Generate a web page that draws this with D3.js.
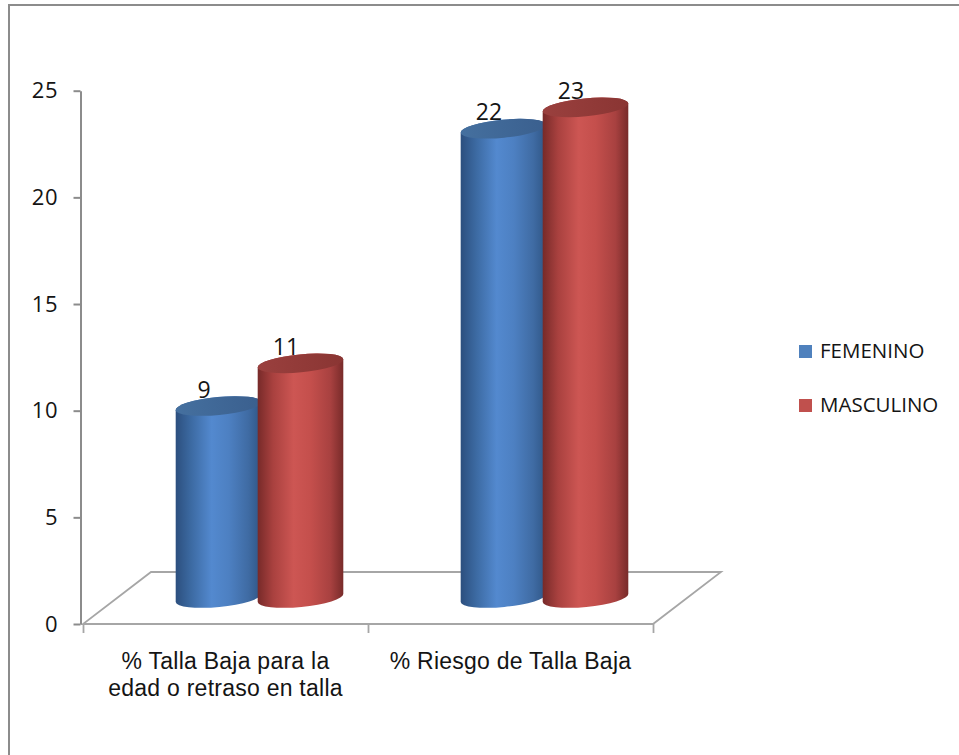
<!DOCTYPE html>
<html>
<head>
<meta charset="utf-8">
<script src="https://cdn.jsdelivr.net/npm/d3@7"></script>
<style>
  html, body { margin: 0; padding: 0; background: #fff; }
  svg { display: block; }
  text { font-family: "Open Sans", "Liberation Sans", sans-serif; fill: #141414; }
</style>
</head>
<body>
<svg id="chart" width="959" height="755"></svg>
<script>
// ---- data ----
const categories = ["% Talla Baja para la edad o retraso en talla", "% Riesgo de Talla Baja"];
const categoryLines = [["% Talla Baja para la", "edad o retraso en talla"], ["% Riesgo de Talla Baja"]];
const seriesNames = ["FEMENINO", "MASCULINO"];
const femenino = [9, 22];
const masculino = [11, 23];
const yTicks = [0, 5, 10, 15, 20, 25];
const seriesValues = [femenino, masculino];

// ---- layout ----
const svg = d3.select("#chart");
const frontLeft = 83, frontRight = 653, yZero = 624, yTop = 90.7;
const depthDx = 68, depthDy = -52;
const rx = 43, ry = 9, tilt = -5.5;

const y = d3.scaleLinear().domain([0, 25]).range([yZero, yTop]);
const x = d3.scaleBand().domain(categories).range([frontLeft, frontRight]);
const xs = d3.scalePoint().domain(seriesNames).range([-41, 41]);
const xEdge = d3.scaleLinear().domain([0, categories.length]).range([frontLeft, frontRight]);

const palettes = {
  FEMENINO: { stops: ["#2c4f7e", "#3c6aa2", "#5389cf", "#4d80c2", "#3f6ba3", "#2f5585"], top: ["#3a5f8e", "#45709f"], legend: "#4f81bd" },
  MASCULINO: { stops: ["#772a29", "#a9413f", "#cd5653", "#c44f4c", "#a84140", "#782b2a"], top: ["#8a3533", "#9a403e"], legend: "#c0504d" }
};

const defs = svg.append("defs");
seriesNames.forEach((s, i) => {
  const g = defs.append("linearGradient").attr("id", "body" + i).attr("x1", 0).attr("x2", 1).attr("y1", 0).attr("y2", 0);
  const offs = [0, 0.18, 0.42, 0.62, 0.85, 1];
  palettes[s].stops.forEach((c, k) => g.append("stop").attr("offset", offs[k]).attr("stop-color", c));
  const t = defs.append("linearGradient").attr("id", "top" + i).attr("x1", 0).attr("x2", 1).attr("y1", 0).attr("y2", 0);
  t.append("stop").attr("offset", 0).attr("stop-color", palettes[s].top[1]);
  t.append("stop").attr("offset", 1).attr("stop-color", palettes[s].top[0]);
});

// outer frame
svg.append("rect").attr("x", 9).attr("y", 5).attr("width", 980).attr("height", 800)
  .attr("fill", "none").attr("stroke", "#8c8c8c").attr("stroke-width", 2);

// floor
const floorPts = [
  [frontLeft, yZero], [frontRight, yZero],
  [frontRight + depthDx, yZero + depthDy], [frontLeft + depthDx, yZero + depthDy]
];
svg.append("path").attr("d", d3.line()(floorPts) + "Z")
  .attr("fill", "none").attr("stroke", "#a6a6a6").attr("stroke-width", 1.8);

// y axis
const yAxis = d3.axisLeft(y).tickValues(yTicks).tickSize(7).tickSizeOuter(0).tickPadding(15);
const gy = svg.append("g").attr("transform", "translate(80.5,0)").call(yAxis);
gy.select(".domain").attr("stroke", "#8c8c8c").attr("stroke-width", 2);
gy.selectAll(".tick line").attr("stroke", "#8c8c8c").attr("stroke-width", 2);
gy.selectAll(".tick text").attr("font-size", 22).attr("letter-spacing", 0.8);

// x axis ticks at category boundaries
const xAxis = d3.axisBottom(xEdge).tickValues(d3.range(0, categories.length + 1)).tickFormat("").tickSize(9).tickSizeOuter(0);
const gx = svg.append("g").attr("transform", `translate(0,${yZero})`).call(xAxis);
gx.select(".domain").remove();
gx.selectAll(".tick line").attr("stroke", "#a6a6a6").attr("stroke-width", 1.8);

// category labels
const cl = svg.append("g").selectAll("text").data(categories).join("text")
  .attr("text-anchor", "middle").attr("font-size", 23)
  .style("font-family", "'Liberation Sans', Arial, sans-serif").attr("letter-spacing", 0.25)
  .attr("transform", d => `translate(${x(d) + x.bandwidth() / 2},669)`);
cl.each(function(d, i) {
  d3.select(this).selectAll("tspan").data(categoryLines[i]).join("tspan")
    .attr("x", 0).attr("dy", (l, k) => k === 0 ? 0 : 27).text(l => l);
});

// cylinders
const rad = tilt * Math.PI / 180;
const ex = rx * Math.cos(rad), ey = rx * Math.sin(rad);
const bars = [];
categories.forEach((c, ci) => {
  seriesNames.forEach((s, si) => {
    bars.push({ cat: c, series: s, si, value: seriesValues[si][ci] });
  });
});
bars.forEach(b => {
  b.cx = x(b.cat) + x.bandwidth() / 2 + depthDx / 2 + xs(b.series);
  b.yBase = y(0) + depthDy / 2;
  b.yTop = y(b.value) + depthDy / 2;
});

const barG = svg.append("g");
const bg = barG.selectAll("g").data(bars).join("g");
bg.append("path")
  .attr("d", b => {
    const lT = [b.cx - ex, b.yTop - ey], rT = [b.cx + ex, b.yTop + ey];
    const lB = [b.cx - ex, b.yBase - ey], rB = [b.cx + ex, b.yBase + ey];
    return `M${lT}L${lB}A${rx},${ry},${tilt},0,0,${rB}L${rT}A${rx},${ry},${tilt},0,0,${lT}Z`;
  })
  .attr("fill", b => `url(#body${b.si})`);
bg.append("ellipse")
  .attr("cx", 0).attr("cy", 0).attr("rx", rx).attr("ry", ry)
  .attr("transform", b => `translate(${b.cx},${b.yTop}) rotate(${tilt})`)
  .attr("fill", b => `url(#top${b.si})`);

// value labels
svg.append("g").selectAll("text").data(bars).join("text")
  .attr("x", b => b.cx - 14.5).attr("y", b => b.yTop - 8.5)
  .attr("text-anchor", "middle").attr("font-size", 23)
  .text(b => d3.format("d")(b.value));

// legend
const lg = svg.append("g").selectAll("g").data(seriesNames).join("g")
  .attr("transform", (d, i) => `translate(799,${345 + i * 54})`);
lg.append("rect").attr("width", 13).attr("height", 13).attr("fill", d => palettes[d].legend);
lg.append("text").attr("x", 21).attr("y", 12.8).attr("font-size", 20.5).text(d => d);
</script>
</body>
</html>
